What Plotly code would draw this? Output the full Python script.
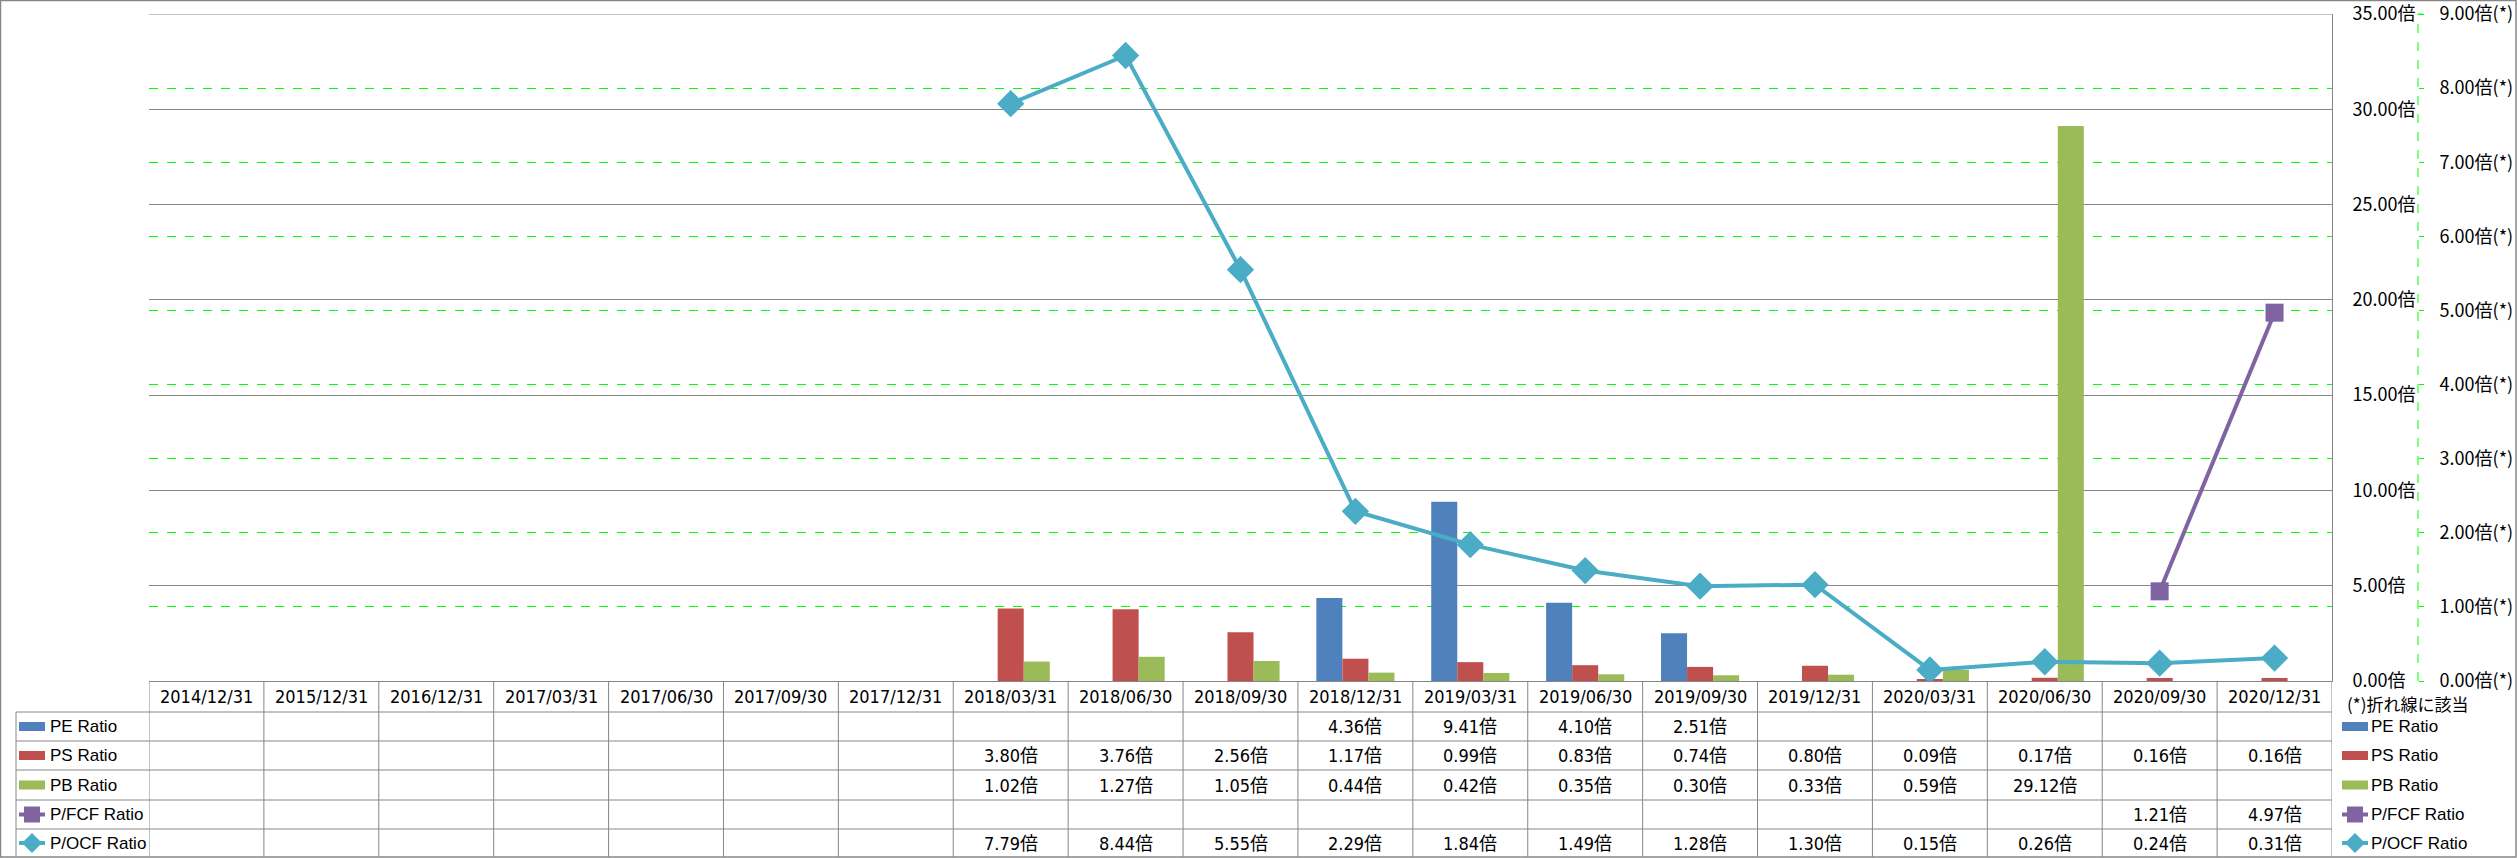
import plotly.graph_objects as go

categories = ["2014/12/31", "2015/12/31", "2016/12/31", "2017/03/31", "2017/06/30",
              "2017/09/30", "2017/12/31", "2018/03/31", "2018/06/30", "2018/09/30",
              "2018/12/31", "2019/03/31", "2019/06/30", "2019/09/30", "2019/12/31",
              "2020/03/31", "2020/06/30", "2020/09/30", "2020/12/31"]
N = None
pe_ratio = [N, N, N, N, N, N, N, N, N, N, 4.36, 9.41, 4.10, 2.51, N, N, N, N, N]
ps_ratio = [N, N, N, N, N, N, N, 3.80, 3.76, 2.56, 1.17, 0.99, 0.83, 0.74, 0.80, 0.09, 0.17, 0.16, 0.16]
pb_ratio = [N, N, N, N, N, N, N, 1.02, 1.27, 1.05, 0.44, 0.42, 0.35, 0.30, 0.33, 0.59, 29.12, N, N]
pfcf_ratio = [N, N, N, N, N, N, N, N, N, N, N, N, N, N, N, N, N, 1.21, 4.97]
pocf_ratio = [N, N, N, N, N, N, N, 7.79, 8.44, 5.55, 2.29, 1.84, 1.49, 1.28, 1.30, 0.15, 0.26, 0.24, 0.31]

left_ticks = [0, 5, 10, 15, 20, 25, 30, 35]
right_ticks = [0, 1, 2, 3, 4, 5, 6, 7, 8, 9]

series_names = ["PE Ratio", "PS Ratio", "PB Ratio", "P/FCF Ratio", "P/OCF Ratio"]
colors = ["#4F81BD", "#C0504D", "#9BBB59", "#8064A2", "#4BACC6"]

W, H = 2517, 858
PL, PR, AX2, PT, PBOT = 149, 2332, 2418, 14, 681
GRAY = "#868686"
GREEN = "#00FF00"
TFONT = "DejaVu Sans Condensed, Noto Sans CJK JP, sans-serif"
LFONT = "Liberation Sans, Arial, sans-serif"
AFONT = "Noto Sans CJK JP, sans-serif"
TSIZE = 18
LSIZE = 17


def fx(px):
    return (px - PL) / (AX2 - PL)


def fy(py):
    return (PBOT - py) / (PBOT - PT)


fig = go.Figure()
for name, vals, col in zip(series_names[:3], [pe_ratio, ps_ratio, pb_ratio], colors[:3]):
    fig.add_trace(go.Bar(x=categories, y=vals, name=name, marker=dict(color=col, line=dict(width=0)),
                         yaxis="y", xaxis="x"))

fig.add_trace(go.Scatter(x=categories, y=pfcf_ratio, name=series_names[3], mode="lines+markers",
                         line=dict(color=colors[3], width=4),
                         marker=dict(symbol="square", size=18, color=colors[3]), yaxis="y2"))
fig.add_trace(go.Scatter(x=categories, y=pocf_ratio, name=series_names[4], mode="lines+markers",
                         line=dict(color=colors[4], width=4),
                         marker=dict(symbol="diamond", size=21, color=colors[4]), yaxis="y2"))

shapes = []
annotations = []

# outer border
shapes.append(dict(type="rect", xref="paper", yref="paper", x0=fx(0.5), x1=fx(2516), y0=fy(857), y1=fy(0.5),
                   line=dict(color=GRAY, width=1.5), layer="below"))
# dashed secondary axis line
shapes.append(dict(type="line", xref="paper", yref="paper", x0=1, x1=1, y0=0, y1=1,
                   line=dict(color=GREEN, width=1, dash="dash")))
# top gridline (axis top edge) and top tick of secondary axis
shapes.append(dict(type="line", xref="x", yref="y", x0=-0.5, x1=len(categories) - 0.5,
                   y0=left_ticks[-1], y1=left_ticks[-1], line=dict(color=GRAY, width=1), layer="below"))
shapes.append(dict(type="line", xref="paper", yref="paper", x0=1, x1=fx(AX2 + 5),
                   y0=1, y1=1, line=dict(color=GREEN, width=1)))

# table grid
row_edges = [681, 712, 741, 770, 800, 829, 857]
ncat = len(categories)
for i in range(ncat + 1):
    shapes.append(dict(type="line", xref="x", yref="paper", x0=i - 0.5, x1=i - 0.5,
                       y0=fy(row_edges[0]), y1=fy(row_edges[-1]), line=dict(color=GRAY, width=1)))
for e in row_edges[1:-1]:
    shapes.append(dict(type="line", xref="paper", yref="paper", x0=fx(16), x1=fx(PR),
                       y0=fy(e), y1=fy(e), line=dict(color=GRAY, width=1)))
shapes.append(dict(type="line", xref="paper", yref="paper", x0=fx(16), x1=fx(16),
                   y0=fy(row_edges[1]), y1=fy(row_edges[-1]), line=dict(color=GRAY, width=1)))

# header
hc = (row_edges[0] + row_edges[1]) / 2
for c in categories:
    annotations.append(dict(x=c, xref="x", y=fy(hc), yref="paper", text=c, showarrow=False,
                            font=dict(family=TFONT, size=TSIZE, color="#000"), xanchor="center", yanchor="middle"))

all_vals = [pe_ratio, ps_ratio, pb_ratio, pfcf_ratio, pocf_ratio]


def legend_key(kind, col, x0, cy):
    if kind == "bar":
        shapes.append(dict(type="rect", xref="paper", yref="paper", x0=fx(x0), x1=fx(x0 + 26),
                           y0=fy(cy + 4.5), y1=fy(cy - 4.5), fillcolor=col, line=dict(width=0)))
    else:
        shapes.append(dict(type="line", xref="paper", yref="paper", x0=fx(x0), x1=fx(x0 + 26),
                           y0=fy(cy), y1=fy(cy), line=dict(color=col, width=4)))
        cx = x0 + 13
        if kind == "square":
            shapes.append(dict(type="rect", xref="paper", yref="paper", x0=fx(cx - 8), x1=fx(cx + 8),
                               y0=fy(cy + 8), y1=fy(cy - 8), fillcolor=col, line=dict(width=0)))
        else:
            r = 10
            path = (f"M {fx(cx - r)},{fy(cy)} L {fx(cx)},{fy(cy - r)} L {fx(cx + r)},{fy(cy)} "
                    f"L {fx(cx)},{fy(cy + r)} Z")
            shapes.append(dict(type="path", xref="paper", yref="paper", path=path, fillcolor=col,
                               line=dict(width=0)))


kinds = ["bar", "bar", "bar", "square", "diamond"]
for r, (name, vals, col, kind) in enumerate(zip(series_names, all_vals, colors, kinds)):
    cy = (row_edges[r + 1] + row_edges[r + 2]) / 2
    for c, v in zip(categories, vals):
        if v is not None:
            annotations.append(dict(x=c, xref="x", y=fy(cy), yref="paper", text=f"{v:.2f}倍", showarrow=False,
                                    font=dict(family=TFONT, size=TSIZE, color="#000"),
                                    xanchor="center", yanchor="middle"))
    legend_key(kind, col, 19, cy)
    annotations.append(dict(x=fx(48), xref="paper", y=fy(cy), yref="paper", text=name, showarrow=False,
                            font=dict(family=LFONT, size=LSIZE, color="#000"), xanchor="left", yanchor="middle"))
    legend_key(kind, col, 2342, cy)
    annotations.append(dict(x=fx(2369), xref="paper", y=fy(cy), yref="paper", text=name, showarrow=False,
                            font=dict(family=LFONT, size=LSIZE, color="#000"), xanchor="left", yanchor="middle"))

annotations.append(dict(x=fx(2345), xref="paper", y=fy(703), yref="paper", text="(*)折れ線に該当", showarrow=False,
                        font=dict(family=AFONT, size=17, color="#000"), xanchor="left", yanchor="middle"))

fig.update_layout(
    width=W, height=H,
    margin=dict(l=PL, r=W - AX2, t=PT, b=H - PBOT, pad=0),
    paper_bgcolor="white", plot_bgcolor="white",
    barmode="group", bargap=0.32, bargroupgap=0,
    showlegend=False,
    xaxis=dict(type="category", domain=[0, (PR - PL) / (AX2 - PL)], range=[-0.5, ncat - 0.5],
               showticklabels=False, showgrid=False, showline=True, linecolor=GRAY, linewidth=1,
               zeroline=False, ticks=""),
    yaxis=dict(range=[0, 35], tickmode="array", tickvals=left_ticks,
               ticktext=[f"{v:.2f}倍" for v in left_ticks],
               side="right", anchor="x", showgrid=True, gridcolor=GRAY, gridwidth=1,
               showline=True, linecolor=GRAY, zeroline=False, ticklabeloverflow="allow",
               ticks="", ticklabelstandoff=16, automargin=False,
               tickfont=dict(family=AFONT, size=18, color="#000")),
    yaxis2=dict(range=[0, 9], tickmode="array", tickvals=right_ticks,
                ticktext=[f"{v:.2f}倍(*)" for v in right_ticks],
                side="right", overlaying="y", anchor="free", position=1, automargin=False,
                showgrid=True, gridcolor=GREEN, griddash="dash", gridwidth=1, showline=False, zeroline=False,
                ticks="outside", ticklen=5, tickcolor=GREEN, ticklabeloverflow="allow",
                ticklabelstandoff=12,
                tickfont=dict(family=AFONT, size=18, color="#000")),
    shapes=shapes, annotations=annotations,
)

fig.write_html("out.html")
